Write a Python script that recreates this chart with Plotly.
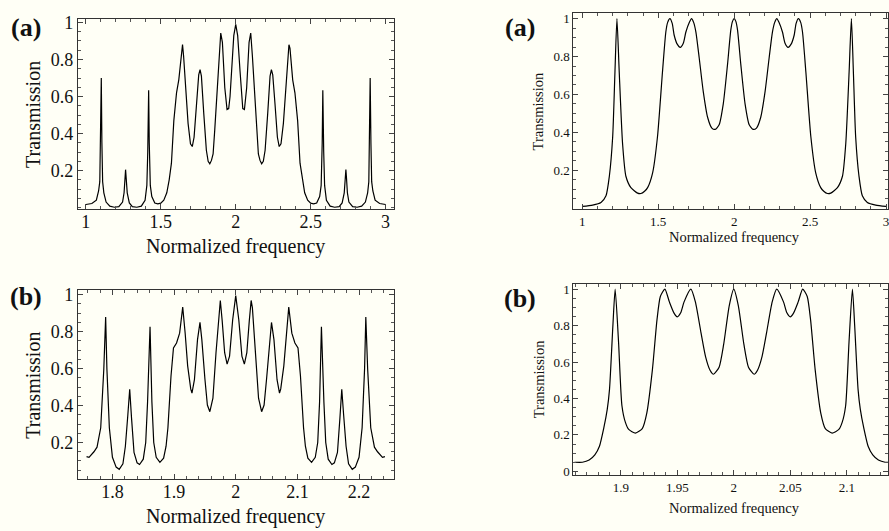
import plotly.graph_objects as go

# ---------------- data ----------------
tl_x = [1.000, 1.040, 1.070, 1.085, 1.093, 1.098, 1.103, 1.107, 1.112, 1.120, 1.135, 1.160, 1.190, 1.220,
        1.245, 1.255, 1.261, 1.265, 1.269, 1.276, 1.290, 1.310, 1.340, 1.370, 1.395, 1.407, 1.413, 1.419,
        1.423, 1.430, 1.440, 1.460, 1.480, 1.500, 1.520, 1.540, 1.556, 1.571, 1.587, 1.605, 1.620, 1.630,
        1.638, 1.645, 1.652, 1.667, 1.682, 1.698, 1.710, 1.722, 1.738, 1.753, 1.762, 1.771, 1.787, 1.804,
        1.816, 1.827, 1.838, 1.849, 1.860, 1.871, 1.889, 1.900, 1.911, 1.927, 1.942, 1.953, 1.962, 1.971,
        1.987, 2.000,
        2.013, 2.029, 2.038, 2.047, 2.058, 2.073, 2.089, 2.100, 2.111, 2.129, 2.140, 2.151, 2.162, 2.173,
        2.184, 2.196, 2.213, 2.229, 2.238, 2.247, 2.262, 2.278, 2.290, 2.302, 2.318, 2.333, 2.348, 2.355,
        2.362, 2.370, 2.380, 2.395, 2.413, 2.429, 2.444, 2.460, 2.480, 2.500, 2.520, 2.540, 2.560, 2.570,
        2.577, 2.581, 2.587, 2.593, 2.605, 2.630, 2.660, 2.690, 2.710, 2.724, 2.731, 2.735, 2.739, 2.745,
        2.755, 2.780, 2.810, 2.840, 2.865, 2.880, 2.888, 2.893, 2.897, 2.902, 2.907, 2.915, 2.930, 2.960,
        3.000]
tl_y = [0.017, 0.022, 0.040, 0.090, 0.140, 0.350, 0.700, 0.350, 0.140, 0.080, 0.030, 0.008, 0.002, 0.005,
        0.030, 0.080, 0.160, 0.205, 0.160, 0.080, 0.025, 0.005, 0.002, 0.008, 0.040, 0.120, 0.300, 0.634,
        0.350, 0.120, 0.060, 0.025, 0.020, 0.024, 0.040, 0.080, 0.150, 0.240, 0.470, 0.620, 0.690, 0.780,
        0.860, 0.880, 0.820, 0.650, 0.455, 0.345, 0.330, 0.380, 0.560, 0.717, 0.745, 0.710, 0.505, 0.310,
        0.250, 0.237, 0.255, 0.290, 0.420, 0.558, 0.820, 0.943, 0.893, 0.647, 0.530, 0.535, 0.600, 0.734,
        0.929, 0.990,
        0.929, 0.734, 0.600, 0.535, 0.530, 0.647, 0.893, 0.943, 0.820, 0.558, 0.420, 0.290, 0.255, 0.237,
        0.250, 0.310, 0.505, 0.710, 0.745, 0.717, 0.560, 0.380, 0.330, 0.345, 0.455, 0.650, 0.820, 0.880,
        0.860, 0.780, 0.690, 0.620, 0.470, 0.240, 0.150, 0.080, 0.040, 0.024, 0.020, 0.025, 0.060, 0.120,
        0.350, 0.634, 0.300, 0.120, 0.040, 0.008, 0.002, 0.005, 0.025, 0.080, 0.160, 0.205, 0.160, 0.080,
        0.030, 0.005, 0.002, 0.008, 0.030, 0.080, 0.140, 0.350, 0.700, 0.350, 0.140, 0.090, 0.040, 0.022,
        0.017]

bl_x = [1.758, 1.762, 1.770, 1.775, 1.781, 1.786, 1.789, 1.791, 1.795, 1.800, 1.806, 1.811, 1.817, 1.821,
        1.825, 1.828, 1.831, 1.835, 1.840, 1.844, 1.850, 1.854, 1.857, 1.861, 1.864, 1.867, 1.871, 1.877,
        1.883, 1.887, 1.890, 1.895, 1.899, 1.904, 1.909, 1.914, 1.918, 1.922, 1.927, 1.929, 1.933, 1.938,
        1.942, 1.945, 1.950, 1.954, 1.958, 1.963, 1.968, 1.973, 1.975, 1.978, 1.982, 1.986, 1.990, 1.995,
        2.000,
        2.005, 2.010, 2.014, 2.018, 2.022, 2.025, 2.027, 2.032, 2.037, 2.042, 2.046, 2.050, 2.055, 2.058,
        2.062, 2.067, 2.071, 2.073, 2.078, 2.082, 2.086, 2.091, 2.096, 2.101, 2.105, 2.110, 2.113, 2.117,
        2.123, 2.129, 2.133, 2.136, 2.139, 2.143, 2.146, 2.150, 2.156, 2.160, 2.165, 2.169, 2.172, 2.175,
        2.179, 2.183, 2.189, 2.194, 2.200, 2.205, 2.209, 2.211, 2.214, 2.219, 2.225, 2.230, 2.238, 2.242]
bl_y = [0.124, 0.120, 0.150, 0.175, 0.280, 0.597, 0.880, 0.600, 0.280, 0.120, 0.067, 0.055, 0.085, 0.180,
        0.350, 0.488, 0.332, 0.146, 0.090, 0.081, 0.110, 0.200, 0.420, 0.827, 0.420, 0.200, 0.120, 0.093,
        0.115, 0.180, 0.280, 0.560, 0.712, 0.739, 0.792, 0.933, 0.790, 0.615, 0.490, 0.468, 0.540, 0.757,
        0.850, 0.757, 0.544, 0.403, 0.367, 0.440, 0.686, 0.930, 0.969, 0.860, 0.686, 0.624, 0.668, 0.863,
        0.995,
        0.863, 0.668, 0.624, 0.686, 0.860, 0.969, 0.930, 0.686, 0.440, 0.367, 0.403, 0.544, 0.757, 0.850,
        0.757, 0.540, 0.468, 0.490, 0.615, 0.790, 0.933, 0.792, 0.739, 0.712, 0.560, 0.280, 0.180, 0.115,
        0.093, 0.120, 0.200, 0.420, 0.827, 0.420, 0.200, 0.110, 0.081, 0.090, 0.146, 0.332, 0.488, 0.350,
        0.180, 0.085, 0.055, 0.067, 0.120, 0.280, 0.600, 0.880, 0.597, 0.280, 0.175, 0.150, 0.120, 0.124]

tr_x = [1.000, 1.068, 1.123, 1.156, 1.178, 1.200, 1.215, 1.228, 1.243, 1.265, 1.287, 1.320, 1.364, 1.386,
        1.410, 1.430, 1.463, 1.495, 1.528, 1.550, 1.562, 1.577, 1.592, 1.605, 1.625, 1.645, 1.665, 1.682,
        1.705, 1.719, 1.733, 1.748, 1.770, 1.796, 1.825, 1.853, 1.875, 1.901, 1.928, 1.956, 1.978, 1.989,
        2.000,
        2.011, 2.022, 2.044, 2.072, 2.099, 2.125, 2.147, 2.175, 2.204, 2.230, 2.252, 2.267, 2.281, 2.295,
        2.318, 2.335, 2.355, 2.375, 2.395, 2.408, 2.423, 2.438, 2.450, 2.472, 2.505, 2.537, 2.570, 2.590,
        2.614, 2.636, 2.680, 2.713, 2.735, 2.757, 2.772, 2.785, 2.800, 2.822, 2.844, 2.877, 2.932, 3.000]
tr_y = [0.010, 0.017, 0.031, 0.066, 0.169, 0.377, 0.720, 1.000, 0.720, 0.342, 0.169, 0.109, 0.080, 0.078,
        0.090, 0.109, 0.187, 0.377, 0.720, 0.929, 0.980, 1.000, 0.975, 0.912, 0.865, 0.848, 0.870, 0.929,
        0.980, 1.000, 0.980, 0.929, 0.791, 0.618, 0.480, 0.423, 0.416, 0.440, 0.549, 0.756, 0.940, 0.985,
        1.000,
        0.985, 0.940, 0.756, 0.549, 0.440, 0.416, 0.423, 0.480, 0.618, 0.791, 0.929, 0.980, 1.000, 0.980,
        0.929, 0.870, 0.848, 0.865, 0.912, 0.975, 1.000, 0.980, 0.929, 0.720, 0.377, 0.187, 0.109, 0.090,
        0.078, 0.080, 0.109, 0.169, 0.342, 0.720, 1.000, 0.720, 0.377, 0.169, 0.066, 0.031, 0.017, 0.010]

br_x = [1.859, 1.866, 1.872, 1.877, 1.881, 1.885, 1.888, 1.890, 1.893, 1.895, 1.898, 1.901, 1.904, 1.907,
        1.913, 1.919, 1.923, 1.928, 1.932, 1.935, 1.939, 1.943, 1.947, 1.950, 1.953, 1.956, 1.962, 1.966,
        1.971, 1.975, 1.979, 1.982, 1.987, 1.991, 1.996, 2.000,
        2.004, 2.009, 2.013, 2.018, 2.021, 2.025, 2.029, 2.034, 2.038, 2.044, 2.047, 2.050, 2.053, 2.057,
        2.061, 2.065, 2.068, 2.072, 2.077, 2.081, 2.087, 2.093, 2.096, 2.099, 2.102, 2.105, 2.107, 2.110,
        2.112, 2.115, 2.119, 2.123, 2.128, 2.134, 2.141]
br_y = [0.050, 0.050, 0.062, 0.090, 0.136, 0.240, 0.340, 0.450, 0.800, 1.000, 0.710, 0.360, 0.270, 0.230,
        0.210, 0.235, 0.320, 0.560, 0.830, 0.960, 1.000, 0.930, 0.870, 0.848, 0.870, 0.930, 1.000, 0.930,
        0.760, 0.630, 0.555, 0.533, 0.572, 0.695, 0.910, 1.000,
        0.910, 0.695, 0.572, 0.533, 0.555, 0.630, 0.760, 0.930, 1.000, 0.930, 0.870, 0.848, 0.870, 0.930,
        1.000, 0.960, 0.830, 0.560, 0.320, 0.235, 0.210, 0.230, 0.270, 0.360, 0.710, 1.000, 0.800, 0.450,
        0.340, 0.240, 0.136, 0.090, 0.062, 0.050, 0.050]

# tick labels
tl_xticks = [1, 1.5, 2, 2.5, 3]
tl_xtext = ["1", "1.5", "2", "2.5", "3"]
bl_xticks = [1.8, 1.9, 2.0, 2.1, 2.2]
bl_xtext = ["1.8", "1.9", "2", "2.1", "2.2"]
tr_xticks = [1, 1.5, 2, 2.5, 3]
tr_xtext = ["1", "1.5", "2", "2.5", "3"]
br_xticks = [1.9, 1.95, 2.0, 2.05, 2.1]
br_xtext = ["1.9", "1.95", "2", "2.05", "2.1"]
y_ticks = [0.2, 0.4, 0.6, 0.8, 1.0]
y_text = ["0.2", "0.4", "0.6", "0.8", "1"]
br_yticks = [0, 0.2, 0.4, 0.6, 0.8, 1.0]
br_ytext = ["0", "0.2", "0.4", "0.6", "0.8", "1"]

# ---------------- figure ----------------
W, H = 889, 531
BG = "#fffff6"
SERIF = "Liberation Serif, Times New Roman, serif"

def px_x(p):
    return min(p / W, 1.0)

def px_y(p):
    return 1 - p / H

fig = go.Figure()
panels = [
    ("x", "y", tl_x, tl_y, "linear"),
    ("x2", "y2", bl_x, bl_y, "linear"),
    ("x3", "y3", tr_x, tr_y, "spline"),
    ("x4", "y4", br_x, br_y, "spline"),
]
for xa, ya, xs, ys, shape in panels:
    fig.add_trace(go.Scatter(x=xs, y=ys, xaxis=xa, yaxis=ya, mode="lines",
                             line=dict(color="black", width=1.2, shape=shape, smoothing=0.6),
                             showlegend=False, hoverinfo="skip", cliponaxis=True))

def axis_common(fs):
    return dict(showgrid=False, zeroline=False, showline=True, linecolor="#333", linewidth=1,
                mirror="ticks", ticks="inside", ticklen=5, tickcolor="#444", tickwidth=1,
                tickfont=dict(family=SERIF, size=fs, color="#111"),
                minor=dict(ticks="inside", ticklen=3, tickcolor="#555", tickwidth=1))

# geometry (pixels)
L_x0, L_x1 = 78, 394
R_x0, R_x1 = 574, 889
TL_y0, TL_y1 = 13, 207
BL_y0, BL_y1 = 289, 482
TR_y0, TR_y1 = 7, 207
BR_y0, BR_y1 = 283, 478

lay = dict(width=W, height=H, margin=dict(l=0, r=0, t=0, b=0),
           paper_bgcolor=BG, plot_bgcolor=BG, showlegend=False)

ax = axis_common(18)
lay["xaxis"] = dict(ax, domain=[px_x(L_x0), px_x(L_x1)], anchor="y", range=[0.947, 3.053],
                    tickvals=tl_xticks, ticktext=tl_xtext, ticklabelstandoff=-4,
                    minor=dict(ax["minor"], dtick=0.1, tick0=1))
lay["yaxis"] = dict(ax, domain=[px_y(TL_y1), px_y(TL_y0)], anchor="x", range=[-0.008, 1.02],
                    tickvals=y_ticks, ticktext=y_text, minor=dict(ax["minor"], dtick=0.05, tick0=0))
lay["xaxis2"] = dict(ax, domain=[px_x(L_x0), px_x(L_x1)], anchor="y2", range=[1.744, 2.256],
                     tickvals=bl_xticks, ticktext=bl_xtext, ticklabelstandoff=-4,
                     minor=dict(ax["minor"], dtick=0.02, tick0=1.8))
lay["yaxis2"] = dict(ax, domain=[px_y(BL_y1), px_y(BL_y0)], anchor="x2", range=[0.003, 1.028],
                     tickvals=y_ticks, ticktext=y_text, minor=dict(ax["minor"], dtick=0.05, tick0=0))

axr = axis_common(13)
lay["xaxis3"] = dict(axr, domain=[px_x(R_x0), px_x(R_x1)], anchor="y3", range=[0.941, 3.013],
                     tickvals=tr_xticks, ticktext=tr_xtext, ticklabeloverflow="allow",
                     minor=dict(axr["minor"], dtick=0.1, tick0=1))
lay["yaxis3"] = dict(axr, domain=[px_y(TR_y1), px_y(TR_y0)], anchor="x3", range=[-0.004, 1.03],
                     tickvals=y_ticks, ticktext=y_text, minor=dict(axr["minor"], dtick=0.05, tick0=0))
lay["xaxis4"] = dict(axr, domain=[px_x(R_x0), px_x(R_x1)], anchor="y4", range=[1.858, 2.1365],
                     tickvals=br_xticks, ticktext=br_xtext, ticklabeloverflow="allow",
                     minor=dict(axr["minor"], dtick=0.01, tick0=1.9))
lay["yaxis4"] = dict(axr, domain=[px_y(BR_y1), px_y(BR_y0)], anchor="x4", range=[-0.02, 1.03],
                     tickvals=br_yticks, ticktext=br_ytext, minor=dict(axr["minor"], dtick=0.05, tick0=0))

fig.update_layout(**lay)

def note(text, x, y, size, bold=False, angle=0):
    fig.add_annotation(text=("<b>%s</b>" % text) if bold else text, xref="paper", yref="paper",
                       x=px_x(x), y=px_y(y), xanchor="center", yanchor="middle", showarrow=False,
                       textangle=angle, font=dict(family=SERIF, size=size, color="#111"))

# panel letters
note("(a)", 26, 22, 26, bold=True)
note("(b)", 26, 296, 26, bold=True)
note("(a)", 521, 22, 26, bold=True)
note("(b)", 521, 298, 26, bold=True)
# axis titles
note("Normalized frequency", 236, 245, 20)
note("Normalized frequency", 236, 520, 20)
note("Normalized frequency", 735, 235, 14.5)
note("Normalized frequency", 735, 512, 14.5)
note("Transmission", 33, 110, 20, angle=-90)
note("Transmission", 33, 386, 20, angle=-90)
note("Transmission", 539, 107, 14.5, angle=-90)
note("Transmission", 539, 380, 14.5, angle=-90)

fig.write_html("out.html")
